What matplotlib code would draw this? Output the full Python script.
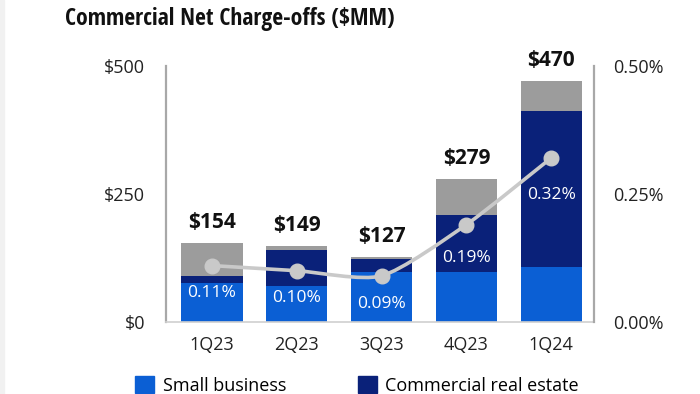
import matplotlib
matplotlib.use("Agg")
import matplotlib.pyplot as plt
from matplotlib import font_manager
from matplotlib.path import Path
from matplotlib.patches import PathPatch, Patch, Rectangle
import numpy as np

quarters = ["1Q23", "2Q23", "3Q23", "4Q23", "1Q24"]
small_business = [77, 70, 98, 98, 108]
commercial_re = [13, 70, 25, 111, 304]
other = [64, 9, 4, 70, 58]
totals = [154, 149, 127, 279, 470]
nco_ratio = [0.11, 0.10, 0.09, 0.19, 0.32]
total_labels = ["$154", "$149", "$127", "$279", "$470"]
ratio_labels = ["0.11%", "0.10%", "0.09%", "0.19%", "0.32%"]
left_ticks = [0, 250, 500]
left_ticklabels = ["$0", "$250", "$500"]
right_ticks = [0.0, 0.25, 0.50]
right_ticklabels = ["0.00%", "0.25%", "0.50%"]

names = {f.name for f in font_manager.fontManager.ttflist}
def pick(cands):
    for c in cands:
        if c in names:
            return c
    return "DejaVu Sans"
title_font = pick(["Open Sans Condensed", "Roboto Condensed", "Liberation Sans Narrow", "Roboto"])
body_font = pick(["Open Sans", "Noto Sans", "Lato"])

BLUE = "#0b5fd4"
NAVY = "#0a2179"
GRAY = "#9c9c9c"
LINE = "#c9c9c9"

fig = plt.figure(figsize=(7, 3.94), dpi=100)
ax = fig.add_axes([0.237, 0.1827, 0.612, 0.651])
ax2 = ax.twinx()

x = np.arange(len(quarters))
w = 0.72
sb = np.array(small_business)
cre = np.array(commercial_re)
ot = np.array(other)
ax.bar(x, sb, w, color=BLUE, zorder=2)
ax.bar(x, cre, w, bottom=sb, color=NAVY, zorder=2)
ax.bar(x, ot, w, bottom=sb + cre, color=GRAY, zorder=2)

for xi, t, lab in zip(x, totals, total_labels):
    ax.annotate(lab, (xi, t), xytext=(0, 7), textcoords="offset points",
                ha="center", va="bottom", fontsize=15, fontweight="bold",
                family=body_font, color="#111111")

ax.set_xlim(-0.543, 4.507)
ax.set_ylim(0, 500)
ax.set_yticks(left_ticks)
ax.set_yticklabels(left_ticklabels)
ax.set_xticks(x)
ax.set_xticklabels(quarters)
ax.tick_params(axis="both", length=0, labelsize=13, colors="#222222")
ax.tick_params(axis="y", pad=15)
ax.tick_params(axis="x", pad=10)
for lab in ax.get_xticklabels() + ax.get_yticklabels():
    lab.set_family(body_font)

# smooth line via cardinal spline -> cubic Bezier
xs = x.astype(float)
ys = np.array(nco_ratio, dtype=float)
pts = np.column_stack([xs, ys])
verts = [tuple(pts[0])]
codes = [Path.MOVETO]
k = 0.35
for i in range(len(pts) - 1):
    p0 = pts[i - 1] if i > 0 else pts[i]
    p1 = pts[i]
    p2 = pts[i + 1]
    p3 = pts[i + 2] if i + 2 < len(pts) else pts[i + 1]
    c1 = p1 + (p2 - p0) * k / 3
    c2 = p2 - (p3 - p1) * k / 3
    verts += [tuple(c1), tuple(c2), tuple(p2)]
    codes += [Path.CURVE4] * 3
ax2.add_patch(PathPatch(Path(verts, codes), facecolor="none", edgecolor=LINE,
                        lw=2.6, zorder=3, capstyle="round"))
ax2.plot(xs, ys, "o", color=LINE, markersize=10.5, zorder=4)
offsets = [-20, -20, -20, -24, -27]
for xi, yi, lab, off in zip(xs, ys, ratio_labels, offsets):
    ax2.annotate(lab, (xi, yi), xytext=(0, off), textcoords="offset points",
                 ha="center", va="center", fontsize=12.5, color="white",
                 family=body_font, zorder=5)
ax2.set_ylim(0, 0.5)
ax2.set_yticks(right_ticks)
ax2.set_yticklabels(right_ticklabels)
ax2.tick_params(axis="y", length=0, labelsize=13, colors="#222222", pad=13.5)
for lab in ax2.get_yticklabels():
    lab.set_family(body_font)

for a in (ax, ax2):
    a.spines["top"].set_visible(False)
    a.spines["left"].set_color("#a8a8a8")
    a.spines["right"].set_color("#a8a8a8")
    a.spines["left"].set_linewidth(1.6)
    a.spines["right"].set_linewidth(1.6)
    a.spines["bottom"].set_color("#d0d0d0")
    a.spines["bottom"].set_linewidth(1.2)
    a.patch.set_visible(False)
ax2.spines["left"].set_visible(False)
ax.spines["right"].set_visible(False)
ax2.spines["bottom"].set_visible(False)

fig.text(0.093, 0.953, "Commercial Net Charge-offs ($MM)", fontsize=17,
         fontweight="bold", family=title_font, color="#111111", va="center", ha="left")

handles = [Patch(color=BLUE), Patch(color=NAVY)]
fig.legend(handles, ["Small business", "Commercial real estate"], ncol=2,
           loc="center left", bbox_to_anchor=(0.193, 0.022), frameon=False,
           prop={"family": body_font, "size": 13}, handlelength=1.07,
           handleheight=1.07, handletextpad=0.45, columnspacing=3.98,
           borderaxespad=0, borderpad=0)

fig.patches.append(Rectangle((0, 0), 0.006, 1, transform=fig.transFigure,
                             color="#f1f1f1", zorder=0))
fig.savefig("out.png", dpi=100)
